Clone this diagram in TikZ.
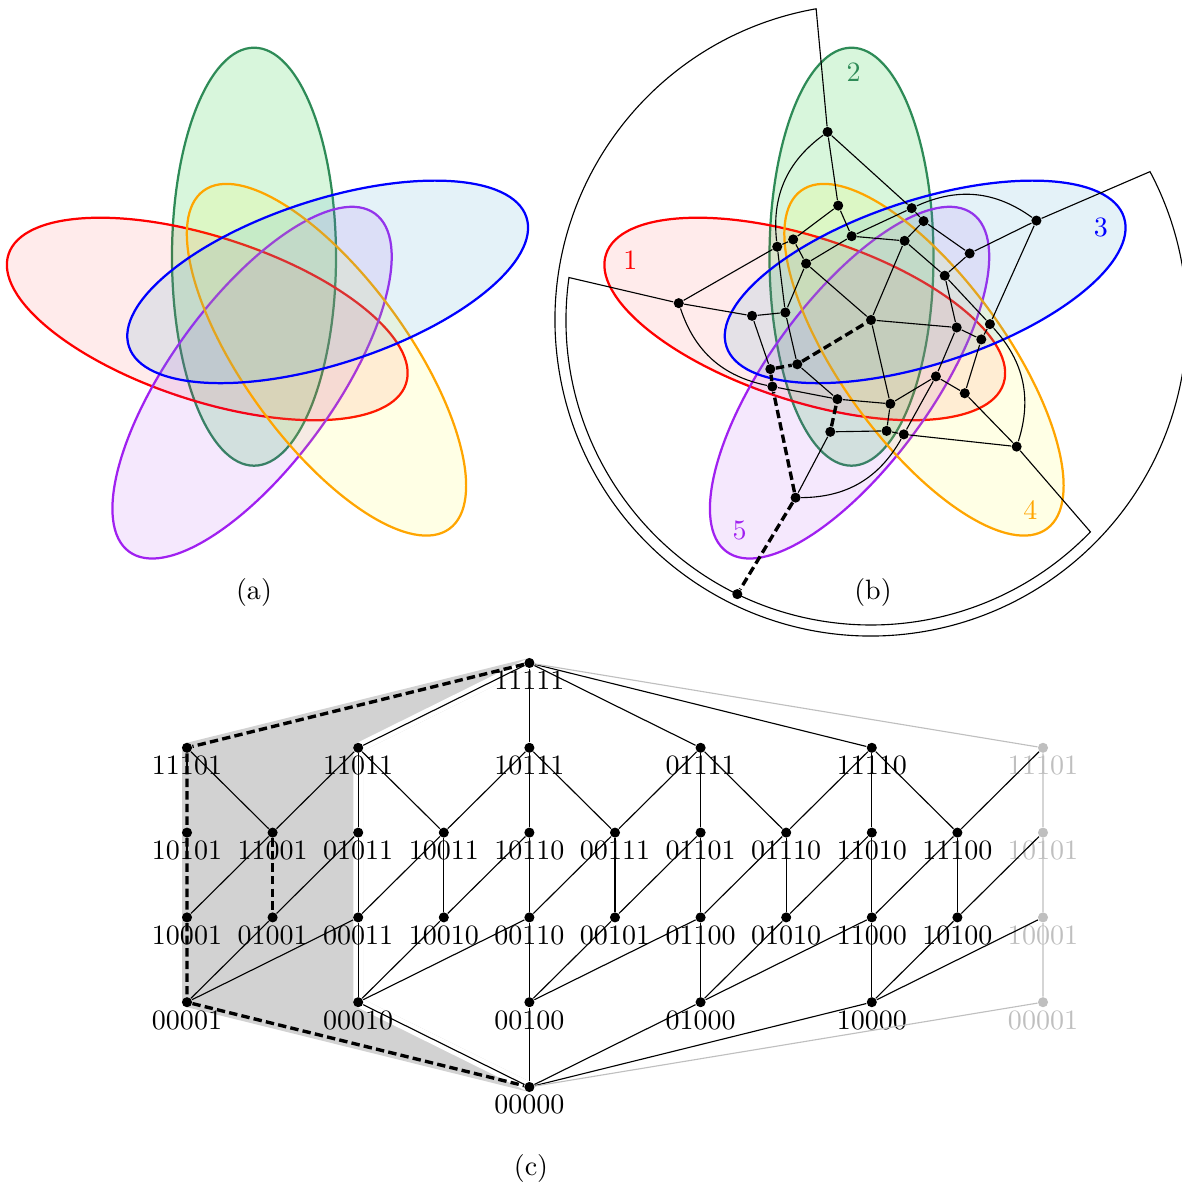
\documentclass[tikz,border=0pt]{standalone}
\usepackage{tikz}
\usetikzlibrary{backgrounds}

\definecolor{cred}{RGB}{255,0,0}
\definecolor{cgreen}{RGB}{46,139,87}
\definecolor{cblue}{RGB}{0,0,255}
\definecolor{corange}{RGB}{255,165,0}
\definecolor{cpurple}{RGB}{160,32,240}
\definecolor{fred}{RGB}{255,0,0}
\definecolor{fgreen}{RGB}{60,210,80}
\definecolor{fblue}{RGB}{75,168,208}
\definecolor{forange}{RGB}{255,255,0}
\definecolor{fpurple}{RGB}{160,32,240}

% five rotated copies of one ellipse, around the current origin
\newcommand{\fiveellipses}{%
  \foreach \m/\cl/\op in {0/green/0.2,1/red/0.08,2/purple/0.1,3/orange/0.1,4/blue/0.15}{
    \draw[thick,draw=c\cl,fill=f\cl,fill opacity=\op,rotate=72*\m]
      (-19.5,63.3) ellipse [x radius=82,y radius=209];
  }}

\begin{document}
\begin{tikzpicture}[x=0.357pt,y=0.357pt,
  dot/.style={circle,fill,inner sep=0pt,minimum size=3.6pt},
  vx/.style={dot,label distance=-1.2pt},
  gvx/.style={vx,fill=gray!50},
  cut/.style={very thick,dash pattern=on 3pt off 1.5pt},
  main0/.style={},main1/.style={},main2/.style={cut},main3/.style={},main4/.style={},
  side0/.style={},side1/.style={},side2/.style={cut},side3/.style={},side4/.style={}]
\useasboundingbox (0,0) rectangle (1181,1185);

% ---- (a) ----
\begin{scope}[shift={(273.5,865)}]
  \fiveellipses
\end{scope}
\node (capa) at (254,592) {(a)};

% ---- (b) ----
\begin{scope}[shift={(871,865)}]
  \fiveellipses
  \foreach \lbl/\cl [count=\m from 0] in {2/green,1/red,5/purple,4/orange,3/blue}
    \node[text=c\cl] (num\m) at ({94+72*\m}:248) {\lbl};
  \node[dot] (Z) at (0,0) {};
  \foreach \m in {0,...,4}{
    \node[dot] (A\m) at ({103+72*\m}:193) {};
    \node[dot] (B\m) at ({103+72*\m}:86) {};
    \node[dot] (C\m) at ({67+72*\m}:86) {};
    \node[dot] (D\m) at ({106+72*\m}:119) {};
    \node[dot] (E\m) at ({70+72*\m}:119) {};
    \node[dot] (F\m) at ({62+72*\m}:112) {};
  }
  \node[dot] (out) at (244:305) {};
  \coordinate (O0) at (100:316);
  \coordinate (I1) at (172:305);
  \foreach \m in {0,...,4}{
    \pgfmathtruncatemacro\mn{mod(\m+1,5)}
    \draw (A\m) -- (D\m);
    \draw[main\m] (A\m) -- (E\m);
    \draw (A\m) to[bend right=30] (E\mn);
    \draw[side\m] (D\m) -- (B\m);
    \draw (D\m) -- (F\mn);
    \draw[main\m] (E\m) -- (F\m);
    \draw (E\m) -- (B\m);
    \draw[main\m] (F\m) -- (C\m);
    \draw (B\m) -- (C\m);
    \draw (B\m) -- (C\mn);
    \draw[main\m] (C\m) -- (Z);
  }
  \draw (A0) -- (O0) arc[start angle=100,end angle=388,radius=316] -- (A4);
  \draw (A1) -- (I1) arc[start angle=172,end angle=316,radius=305] -- (A3);
  \draw[cut] (A2) -- (out);
\end{scope}
\node (capb) at (873,592) {(b)};

% ---- (c) ----
\foreach \bits/\col/\row in {11111/4/0,
    11101/0/1,11011/2/1,10111/4/1,01111/6/1,11110/8/1,
    10101/0/2,11001/1/2,01011/2/2,10011/3/2,10110/4/2,00111/5/2,01101/6/2,01110/7/2,11010/8/2,11100/9/2,
    10001/0/3,01001/1/3,00011/2/3,10010/3/3,00110/4/3,00101/5/3,01100/6/3,01010/7/3,11000/8/3,10100/9/3,
    00001/0/4,00010/2/4,00100/4/4,01000/6/4,10000/8/4,
    00000/4/5}
  \node[vx,label={[yshift=2.6pt]below:\bits}] (c\bits) at ({187+85.6*\col},{522-84.8*\row}) {};
\foreach \bits/\row in {11101/1,10101/2,10001/3,00001/4}
  \node[gvx,label={[yshift=2.6pt,text=gray!50]below:\bits}] (g\bits) at (1043,{522-84.8*\row}) {};

\begin{scope}[on background layer]
  \filldraw[gray!35,line width=3.5pt,line join=round] (c11111.center) -- (c11101.center)
    -- (c00001.center) -- (c00000.center) -- (c00010.center) -- (c11011.center) -- cycle;
  \draw[white,line width=3.5pt,line join=round] (c11111.center) -- (c11011.center)
    -- (c00010.center) -- (c00000.center);
\end{scope}

\foreach \p/\q in {11111/11011,11111/10111,11111/01111,11111/11110,
    11101/11001,11011/11001,11011/01011,11011/10011,
    10111/10011,10111/10110,10111/00111,01111/00111,01111/01101,01111/01110,
    11110/01110,11110/11010,11110/11100,
    11001/10001,01011/01001,01011/00011,10011/00011,10011/10010,10110/10010,10110/00110,
    00111/00110,00111/00101,01101/00101,01101/01100,01110/01100,01110/01010,
    11010/01010,11010/11000,11100/11000,11100/10100,
    01001/00001,00011/00001,00011/00010,10010/00010,00110/00010,00110/00100,
    00101/00100,01100/00100,01100/01000,01010/01000,11000/01000,11000/10000,10100/10000,
    00010/00000,00100/00000,01000/00000,10000/00000}
  \draw (c\p) -- (c\q);
\draw (g11101) -- (c11100);
\draw (g10101) -- (c10100);
\draw (g10001) -- (c10000);
\draw[gray!50] (c11111) -- (g11101) -- (g10101) -- (g10001) -- (g00001) -- (c00000);
\draw[cut] (c11111) -- (c11101) -- (c10101) -- (c10001) -- (c00001) -- (c00000);
\draw[cut] (c11001) -- (c01001);
\node (capc) at (531,17) {(c)};
\end{tikzpicture}
\end{document}
